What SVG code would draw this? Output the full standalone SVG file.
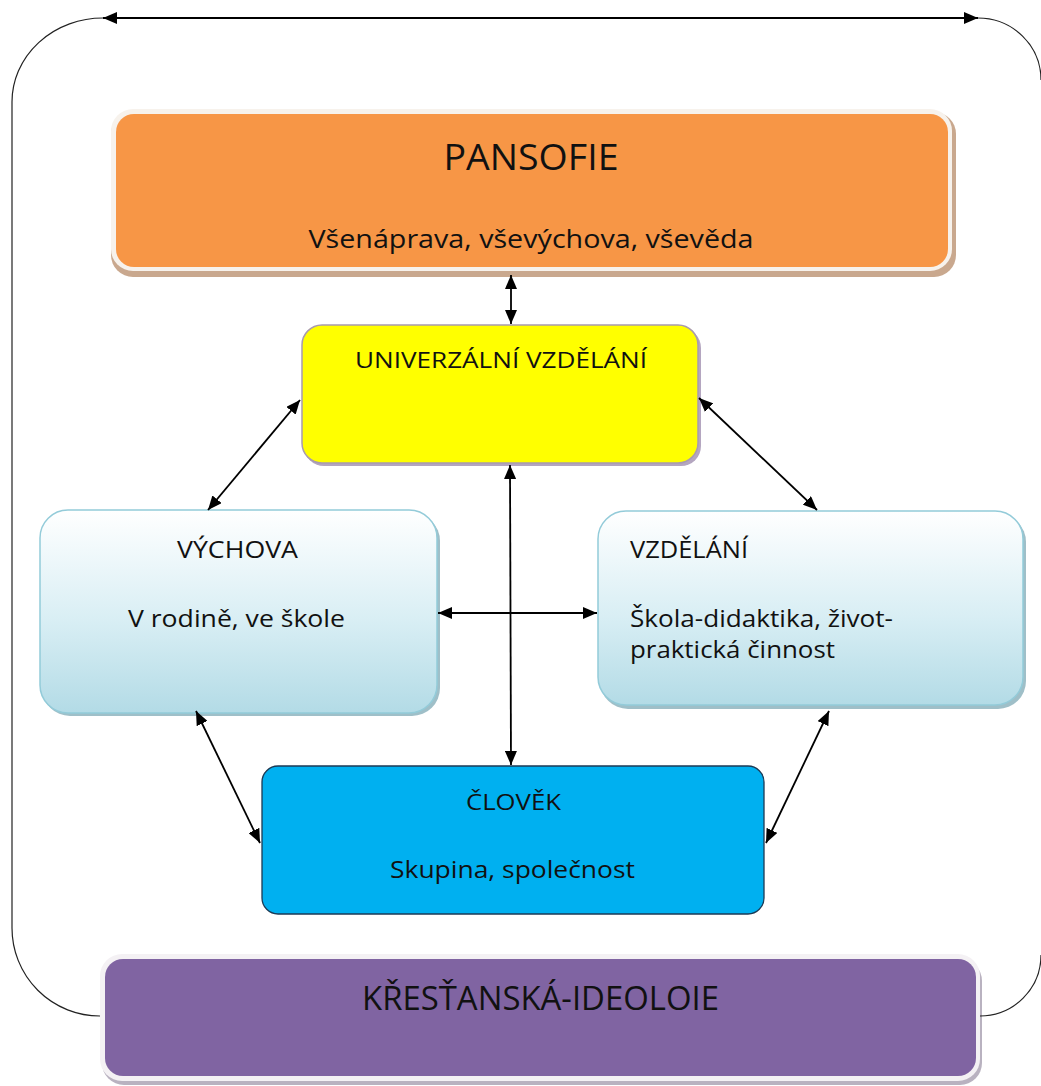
<svg xmlns="http://www.w3.org/2000/svg" width="1041" height="1086" viewBox="0 0 1041 1086">
<style>
text{font-family:"Open Sans",Lato,"Liberation Sans",sans-serif;fill:#111;}
.c{text-anchor:middle;}
.conn line,.conn path{stroke:#000;stroke-width:1.8;fill:none;}
.conn .outer{stroke:#222;stroke-width:1.2;}
</style>
<defs>
<marker id="ah" viewBox="0 0 14 12" refX="14" refY="6" markerWidth="14" markerHeight="12" markerUnits="userSpaceOnUse" orient="auto-start-reverse">
<path d="M0,0 L14,6 L0,12 Z" fill="#000"/>
</marker>
<linearGradient id="lb" x1="0" y1="0" x2="0" y2="1">
<stop offset="0" stop-color="#ffffff"/>
<stop offset="0.55" stop-color="#d8eef4"/>
<stop offset="1" stop-color="#b3dbe6"/>
</linearGradient>
</defs>

<g id="pansofie">
<rect x="111" y="112" width="845" height="165" rx="22" fill="#c9a88e"/>
<rect x="111" y="109" width="841" height="162" rx="22" fill="#f7f2ec"/>
<rect x="116" y="114" width="832" height="153" rx="18" fill="#f79646"/>
<text class="c" x="531" y="170" font-size="37" textLength="175" lengthAdjust="spacingAndGlyphs">PANSOFIE</text>
<text class="c" x="531" y="248" font-size="25" textLength="445" lengthAdjust="spacingAndGlyphs">Všenáprava, vševýchova, vševěda</text>
</g>

<g id="univerzalni">
<rect x="304" y="328" width="397" height="138" rx="20" fill="#b4a6c0"/>
<rect x="302" y="325" width="396" height="138" rx="20" fill="#ffff00" stroke="#a89aaf" stroke-width="1.5"/>
<text class="c" x="501" y="368" font-size="21" textLength="292" lengthAdjust="spacingAndGlyphs">UNIVERZÁLNÍ VZDĚLÁNÍ</text>
</g>

<g id="vychova">
<rect x="42" y="513" width="398" height="203" rx="28" fill="#9fbfc8"/>
<rect x="40" y="510" width="397" height="203" rx="28" fill="url(#lb)" stroke="#93cbd9" stroke-width="1.5"/>
<text class="c" x="237.5" y="558" font-size="23" textLength="121" lengthAdjust="spacingAndGlyphs">VÝCHOVA</text>
<text class="c" x="236.5" y="627" font-size="23" textLength="217" lengthAdjust="spacingAndGlyphs">V rodině, ve škole</text>
</g>

<g id="vzdelani">
<rect x="600" y="514" width="426" height="195" rx="28" fill="#9fbfc8"/>
<rect x="598" y="511" width="425" height="194" rx="28" fill="url(#lb)" stroke="#93cbd9" stroke-width="1.5"/>
<text x="630" y="558" font-size="23" textLength="118" lengthAdjust="spacingAndGlyphs">VZDĚLÁNÍ</text>
<text x="630" y="627" font-size="23" textLength="263" lengthAdjust="spacingAndGlyphs">Škola-didaktika, život-</text>
<text x="630" y="658" font-size="23" textLength="205" lengthAdjust="spacingAndGlyphs">praktická činnost</text>
</g>

<g id="clovek">
<rect x="262" y="766" width="502" height="148" rx="16" fill="#00b0f0" stroke="#1b3a55" stroke-width="1.3"/>
<text class="c" x="513.5" y="810" font-size="21" textLength="95" lengthAdjust="spacingAndGlyphs">ČLOVĚK</text>
<text class="c" x="512.5" y="878" font-size="23" textLength="245" lengthAdjust="spacingAndGlyphs">Skupina, společnost</text>
</g>

<g id="krestanska">
<rect x="102" y="959" width="880" height="126" rx="22" fill="#b9b2c0"/>
<rect x="100" y="954" width="880" height="127" rx="22" fill="#f4f1f4"/>
<rect x="105" y="959" width="871" height="117" rx="18" fill="#8064a2"/>
<text class="c" x="540.5" y="1010" font-size="32" textLength="357" lengthAdjust="spacingAndGlyphs">KŘESŤANSKÁ-IDEOLOIE</text>
</g>

<g id="connectors" class="conn">
<line x1="103" y1="18" x2="978" y2="18" marker-start="url(#ah)" marker-end="url(#ah)"/>
<path class="outer" d="M103,18 A91,84 0 0 0 12,102 L12,928 A88,88 0 0 0 100,1016"/>
<path class="outer" d="M978,18 A63,62 0 0 1 1041,80"/>
<path class="outer" d="M1041,955 A61,61 0 0 1 980,1016"/>
<line x1="511" y1="275" x2="511" y2="324" marker-start="url(#ah)" marker-end="url(#ah)"/>
<line x1="300" y1="400" x2="208" y2="510" marker-start="url(#ah)" marker-end="url(#ah)"/>
<line x1="699" y1="398" x2="817" y2="510" marker-start="url(#ah)" marker-end="url(#ah)"/>
<line x1="510" y1="465" x2="511" y2="765" marker-start="url(#ah)" marker-end="url(#ah)"/>
<line x1="438" y1="613" x2="597" y2="613" marker-start="url(#ah)" marker-end="url(#ah)"/>
<line x1="196" y1="711" x2="260" y2="843" marker-start="url(#ah)" marker-end="url(#ah)"/>
<line x1="829" y1="711" x2="766" y2="843" marker-start="url(#ah)" marker-end="url(#ah)"/>
</g>
</svg>
